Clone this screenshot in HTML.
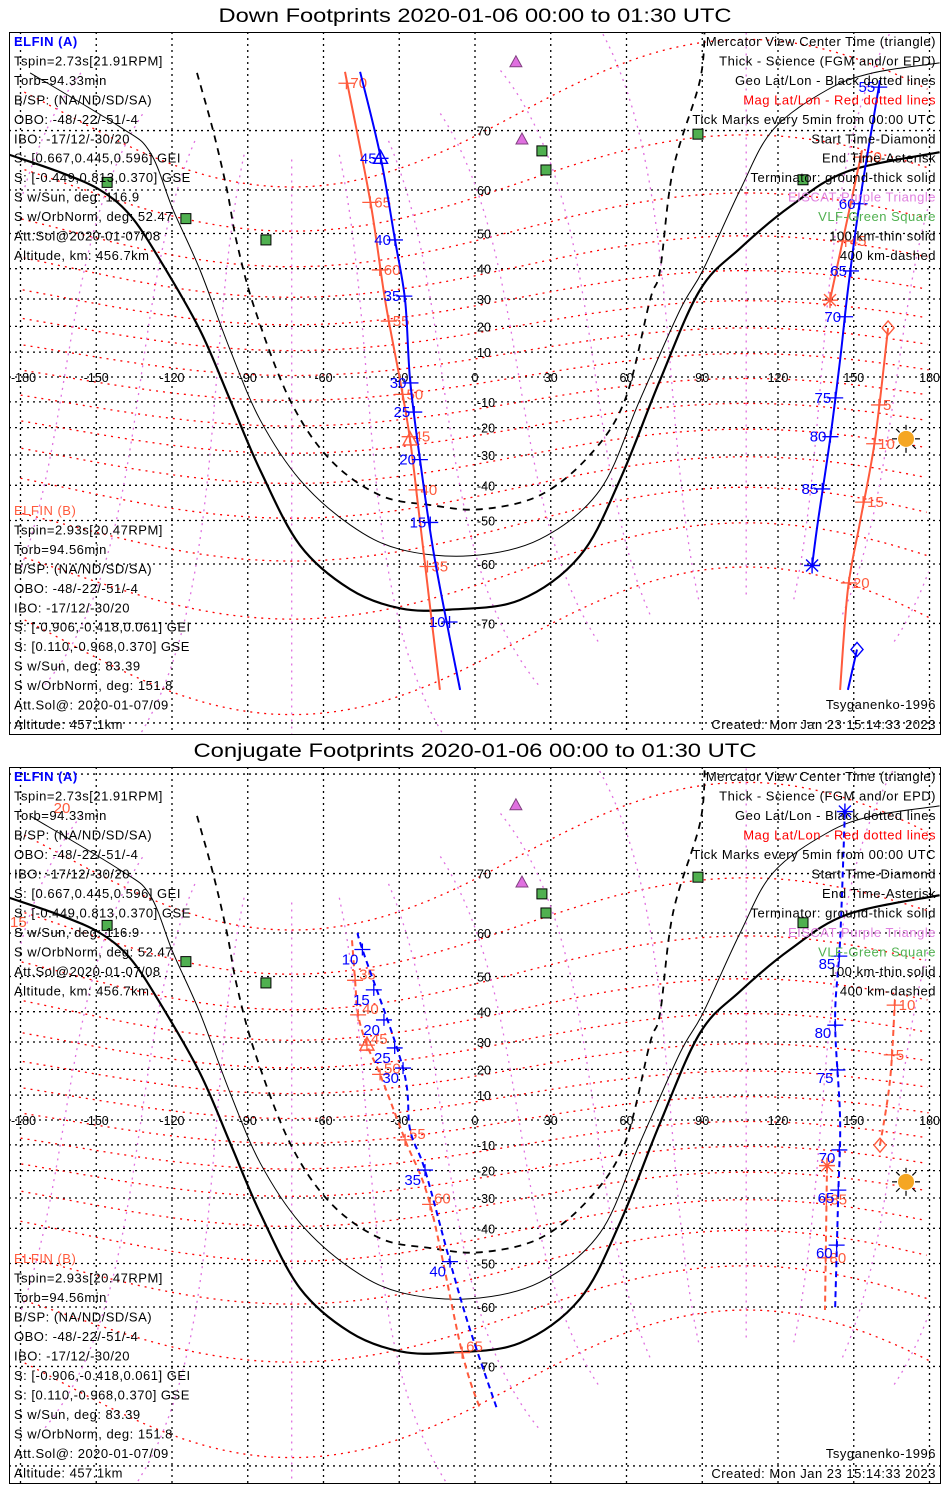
<!DOCTYPE html>
<html><head><meta charset="utf-8"><title>ELFIN Footprints</title>
<style>
html,body{margin:0;padding:0;background:#fff;overflow:hidden;width:950px;height:1500px;}
svg{display:block;font-family:"Liberation Sans",sans-serif;}
.lt{font-size:13px;letter-spacing:0.5px;}
</style></head>
<body>
<svg id="chart" width="950" height="1500" viewBox="0 0 950 1500" xmlns="http://www.w3.org/2000/svg">
<rect x="0" y="0" width="950" height="1500" fill="#fff"/>
</svg>
<script>
// ---- data (lon/lat in degrees) ----
const panelTitles = ["Down Footprints 2020-01-06 00:00 to 01:30 UTC","Conjugate Footprints 2020-01-06 00:00 to 01:30 UTC"];
const lonTicks = [-180,-150,-120,-90,-60,-30,0,30,60,90,120,150,180];
const latTicks = [-70,-60,-50,-40,-30,-20,-10,10,20,30,40,50,60,70];
const termThickLon = [-184.6,-164.4,-148.5,-136.6,-124.8,-108.9,-97,-85.1,-69.3,-49.5,-29.7,-9.9,17.8,41.6,57.4,73.3,89.1,105,124.8,147.3,184];
const termThickLat = [66.4,63.4,60,54.5,42.7,18.6,-9.2,-35.1,-56,-64.7,-67.8,-68,-66.5,-58.3,-38.3,-1.2,33.1,46,56.5,63.5,66.8];
const termThinLon = [-176.2,-140.6,-128.7,-119.6,-108.9,-97,-85.1,-69.3,-49.5,-29.7,-2,25.7,49.5,65.3,81.2,90.3,105,118,139.4,157.6,184];
const termThinLat = [76.6,70.5,66.8,55.8,39.6,10.9,-17,-38.3,-51.1,-56.9,-58.3,-54.6,-41.4,-9.2,26.1,39.6,60,70.1,74.9,76.6,77.5];
const termDashLon = [-110.1,-103.8,-98.2,-94.3,-87.1,-73.3,-57.4,-37.6,-17.8,2,25.7,45.5,59.4,69.3,73.3,78.4,89.1,91];
const termDashLat = [76.6,70.1,60,47.5,26.1,-9.2,-31.6,-43,-45.8,-47,-43,-30,-9.2,29.6,39.6,63.8,75.9,80.5];
const vlfLon = [-145.7,-114.5,-82.8,26.5,28.1,88.3,129.9];
const vlfLat = [61.5,53.7,48.3,67,63.8,69.5,62];
const eiscatLon = [16.2,18.6];
const eiscatLat = [77.6,68.8];
const sunLon = 170.7, sunLat = -24.2;

// Panel 1 tracks
const p1ALeftLon = [-45.5,-37.6,-31.7,-27.7,-25.7,-21.8,-15.8,-5.9];
const p1ALeftLat = [76.7,66.4,48.3,29.6,-1.2,-31.6,-59.4,-77.4];
const p1ALeftTickLat = [65.8,48.3,31,-2.4,-14,-31.6,-50.5,-69.8];
const p1ALeftTickLab = ["45","40","35","30","25","20","15","10"];
const p1ARightLon = [160.4,152.5,147.7,144.6,140.6,135.8,133.5];
const p1ARightLat = [75.9,58,33.1,6.9,-24.6,-50.3,-60.3];
const p1ARightTickLat = [75.2,57.1,39.3,23.6,-8.4,-23.4,-41.1];
const p1ARightTickLab = ["55","60","65","70","75","80","85"];
const p1ABotLon = [151.3,147.7];
const p1ABotLat = [-73.3,-77.4];
const p1BLeftLon = [-51.5,-41.6,-35.6,-29.7,-25.7,-21.8,-13.9];
const p1BLeftLat = [76.7,58,29.6,-1.2,-24.6,-50.3,-77.4];
const p1BLeftTickLat = [75.6,57.4,39.6,22,-7,-23.4,-41.4,-60.5];
const p1BLeftTickLab = ["70","65","60","55","50","45","40","35"];
const p1BRightLon = [163.6,158.4,152.5,147.7,144.6];
const p1BRightLat = [19.4,-24.6,-50.3,-64.7,-77.4];
const p1BRightTickLat = [-11.2,-26,-45,-63.6];
const p1BRightTickLab = ["5","10","15","20"];
const p1BUpLon = [153.3,140.6];
const p1BUpLat = [67.1,29.6];
const p1BUpTickLat = [66,48];
const p1BUpTickLab = ["50","45"];

// Panel 2 tracks
const p2ALeftLon = [-46.3,-44.6,-28.5,-25.7,-19.8,-9.9,-2,8.7];
const p2ALeftLat = [60,56.5,20.5,-4,-19.8,-49.5,-64.2,-75.1];
const p2ALeftTickLat = [56.5,46.4,37.4,27.9,20.5,-19.8,-49.5];
const p2ALeftTickLab = ["10","15","20","25","30","35","40"];
const p2BLeftLon = [-48.7,-47.5,-46.3,-42.8,-37.6,-27.7,-17.8,-5.1,2];
const p2BLeftLat = [58.5,49,39,28.9,18.1,-8,-32.2,-68,-75.1];
const p2BLeftTickLat = [49,39,28.9,18.1,-8,-32.2,-68];
const p2BLeftTickLab = ["35","40","45","50","55","60","65"];
const p2ARightLon = [146.5,144.6,142.6,144.6,143.8,142.6];
const p2ARightLat = [77,58.5,37.4,0,-30.6,-60.6];
const p2ARightTickLat = [55,35.7,19.8,-12,-27.2,-45];
const p2ARightTickLab = ["85","80","75","70","65","60"];
const p2BRightLon = [166.3,164.4,160.4];
const p2BRightLat = [43.5,16.1,-10.1];
const p2BRightTickLat = [42,25.4];
const p2BRightTickLab = ["10","5"];
const p2BLowLon = [139.4,138.6];
const p2BLowLat = [-18.1,-60.6];
const p2BLowTickLat = [-30.6,-48.5];
const p2BLowTickLab = ["85","80"];

const leftA = ["Tspin=2.73s[21.91RPM]","Torb=94.33min","B/SP: (NA/ND/SD/SA)","OBO: -48/-22/-51/-4","IBO: -17/12/-30/20","S: [0.667,0.445,0.596] GEI","S: [-0.449,0.813,0.370] GSE","S w/Sun, deg: 116.9","S w/OrbNorm, deg: 52.47","Att.Sol@2020-01-07/08","Altitude, km: 456.7km"];
const leftB = ["Tspin=2.93s[20.47RPM]","Torb=94.56min","B/SP: (NA/ND/SD/SA)","OBO: -48/-22/-51/-4","IBO: -17/12/-30/20","S: [-0.906,-0.418,0.061] GEI","S: [0.110,-0.968,0.370] GSE","S w/Sun, deg: 83.39","S w/OrbNorm, deg: 151.8","Att.Sol@: 2020-01-07/09","Altitude: 457.1km"];
const legendLines = ["Mercator View Center Time (triangle)","Thick - Science (FGM and/or EPD)","Geo Lat/Lon - Black dotted lines","Mag Lat/Lon - Red dotted lines","Tick Marks every 5min from 00:00 UTC","Start Time-Diamond","End Time-Asterisk","Terminator: ground-thick solid","EISCAT-Purple Triangle","VLF-Green Square","100 km-thin solid","400 km-dashed"];
const legendColors = ["#000","#000","#000","#f00","#000","#000","#000","#000","#e080e0","#50b050","#000","#000"];

// ---- rendering ----
const NS = "http://www.w3.org/2000/svg";
const svg = document.getElementById("chart");
const BLUE = "#0000ff", RED = "#ff5a3c";
const X0 = 9, X1 = 941;
const panels = [
  {top:32, bot:735, y0:377, titleY:22, tl:513, dash:false},
  {top:767, bot:1484, y0:1120, titleY:757, tl:563, dash:true}
];
function xs(lon){ return 475 + lon*2.525; }
function ysF(p){ return lat => p.y0 - 142*Math.log(Math.tan(Math.PI/4 + lat*Math.PI/360)); }
function el(tag, attrs, parent){
  const e = document.createElementNS(NS, tag);
  for (const k in attrs) e.setAttribute(k, attrs[k]);
  (parent||svg).appendChild(e);
  return e;
}
function txt(parent, x, y, s, fill, size, anchor, name){
  const t = el("text", {x:x, y:y, fill:fill, "font-size":size, "text-anchor":anchor||"start"}, parent);
  t.textContent = s;
  
  
  return t;
}
function pathD(pts, smooth){
  if (!smooth || pts.length < 3) return pts.map((p,i)=>(i?"L":"M")+p[0].toFixed(1)+" "+p[1].toFixed(1)).join(" ");
  let d = "M"+pts[0][0].toFixed(1)+" "+pts[0][1].toFixed(1);
  for (let i=0;i<pts.length-1;i++){
    const p0=pts[Math.max(0,i-1)], p1=pts[i], p2=pts[i+1], p3=pts[Math.min(pts.length-1,i+2)];
    const c1=[p1[0]+(p2[0]-p0[0])/6, p1[1]+(p2[1]-p0[1])/6];
    const c2=[p2[0]-(p3[0]-p1[0])/6, p2[1]-(p3[1]-p1[1])/6];
    d += " C"+c1[0].toFixed(1)+" "+c1[1].toFixed(1)+" "+c2[0].toFixed(1)+" "+c2[1].toFixed(1)+" "+p2[0].toFixed(1)+" "+p2[1].toFixed(1);
  }
  return d;
}
function poly(parent, pts, stroke, w, dash, name, smooth){
  const a = {d:pathD(pts, smooth), fill:"none", stroke:stroke, "stroke-width":w};
  if (dash) a["stroke-dasharray"] = dash;
  const e = el("path", a, parent);
  
  
  return e;
}
// dipole mag->geo
const PLAT = 80.6*Math.PI/180, PLON = -72.6*Math.PI/180;
const cpl=Math.cos(PLAT), spl=Math.sin(PLAT), cpo=Math.cos(PLON), spo=Math.sin(PLON);
function magToGeo(mlat, mlon){
  const a=mlat*Math.PI/180, b=mlon*Math.PI/180;
  const u=Math.cos(a)*Math.cos(b), v=Math.cos(a)*Math.sin(b), w=Math.sin(a);
  const gx = u*cpo*spl + v*(-spo) + w*cpl*cpo;
  const gy = u*spo*spl + v*cpo + w*cpl*spo;
  const gz = -u*cpl + w*spl;
  return [Math.atan2(gy,gx)*180/Math.PI, Math.asin(Math.max(-1,Math.min(1,gz)))*180/Math.PI];
}
function interpLon(lons, lats, lat){
  for (let i=0;i<lats.length-1;i++){
    const a=lats[i], b=lats[i+1];
    if ((lat<=a && lat>=b) || (lat>=a && lat<=b)){
      const t = (lat-a)/(b-a||1);
      return lons[i] + t*(lons[i+1]-lons[i]);
    }
  }
  return lons[lons.length-1];
}

panels.forEach((p, pi) => {
  const ys = ysF(p);
  const g = el("g", {}, svg);
  
  
  const cp = el("clipPath", {id:"clip"+pi}, g);
  el("rect", {x:X0, y:p.top, width:X1-X0, height:p.bot-p.top}, cp);
  const title = txt(g, 475, p.titleY, panelTitles[pi], "#000", 19, "middle", "panel-title");
  title.setAttribute("textLength", p.tl);
  title.setAttribute("lengthAdjust", "spacingAndGlyphs");
  const m = el("g", {"clip-path":"url(#clip"+pi+")"}, g);
  
  

  // geo grid
  lonTicks.forEach(lo => {
    const l = el("line", {x1:xs(lo), x2:xs(lo), y1:p.top, y2:p.bot, stroke:"#000", "stroke-width":1.3, "stroke-dasharray":"2,4"}, m);
    
    
  });
  latTicks.concat([0,-80,80]).forEach(la => {
    const l = el("line", {x1:X0, x2:X1, y1:ys(la), y2:ys(la), stroke:"#000", "stroke-width":1.3, "stroke-dasharray":"2,4"}, m);
    
    
  });
  // mag grid
  for (let ml=-70; ml<=70; ml+=10){
    let seg=[], prev=null;
    for (let mo=-180; mo<=180; mo+=2){
      const [lo,la] = magToGeo(ml, mo);
      const pt=[xs(lo), ys(la)];
      if (prev && Math.abs(pt[0]-prev[0])>300){ if(seg.length>1) poly(m, seg, "#f00", 1.3, "2,5", "mag-lat-line"); seg=[]; }
      seg.push(pt); prev=pt;
    }
    if (seg.length>1) poly(m, seg, "#f00", 1.3, "2,5", "mag-lat-line");
  }
  for (let mo=-180; mo<180; mo+=30){
    let seg=[], prev=null;
    for (let ml=-75; ml<=75; ml+=1){
      const [lo,la] = magToGeo(ml, mo);
      const pt=[xs(lo), ys(la)];
      if (prev && Math.abs(pt[0]-prev[0])>300){ if(seg.length>1) poly(m, seg, "#e070e0", 1.3, "2,5", "mag-lon-line"); seg=[]; }
      seg.push(pt); prev=pt;
    }
    if (seg.length>1) poly(m, seg, "#e070e0", 1.3, "2,5", "mag-lon-line");
  }
  // axis labels
  lonTicks.forEach(lo => {
    let x=xs(lo), anc="middle";
    if (lo===-180){ x=11; anc="start"; }
    if (lo===180){ x=940; anc="end"; }
    txt(m, x, p.y0+5, String(lo), "#000", 12.5, anc, "lon-tick-label");
  });
  latTicks.forEach(la => txt(m, 477, ys(la)+5, String(la), "#000", 12.5, "start", "lat-tick-label"));

  // terminators
  const pj = (lons,lats)=>lons.map((lo,i)=>[xs(lo), ys(lats[i])]);
  poly(m, pj(termThickLon,termThickLat), "#000", 2.2, null, "terminator-ground", true);
  poly(m, pj(termThinLon,termThinLat), "#000", 1, null, "terminator-100km", true);
  poly(m, pj(termDashLon,termDashLat), "#000", 1.8, "7,6", "terminator-400km", true);

  // stations
  vlfLon.forEach((lo,i)=>{
    const r = el("rect", {x:xs(lo)-5, y:ys(vlfLat[i])-5, width:10, height:10, fill:"#50b050", stroke:"#000", "stroke-width":1}, m);
    
    
  });
  eiscatLon.forEach((lo,i)=>{
    const x=xs(lo), y=ys(eiscatLat[i]);
    const t = el("path", {d:`M${x} ${y-6} L${x+6} ${y+5} L${x-6} ${y+5} Z`, fill:"#e070e0", stroke:"#804080", "stroke-width":1}, m);
    
    
  });
  // sun
  const sx=xs(sunLon), sy=ys(sunLat);
  for (let k=0;k<8;k++){
    const a=k*Math.PI/4;
    const r = el("line", {x1:sx+9*Math.cos(a), y1:sy+9*Math.sin(a), x2:sx+14*Math.cos(a), y2:sy+14*Math.sin(a), stroke:"#000", "stroke-width":1.2}, m);
    
    
  }
  const sc = el("circle", {cx:sx, cy:sy, r:8, fill:"#f5a623"}, m);
  
  

  // track drawing
  function track(lons, lats, color, name, tickLats, tickLabs, side, ldy){
    poly(m, pj(lons,lats), color, 2, p.dash ? "6,4" : null, name, true);
    (tickLats||[]).forEach((la,i)=>{
      const x = xs(interpLon(lons,lats,la)), y = ys(la);
      const tk = el("path", {d:`M${x-8} ${y} L${x+8} ${y} M${x} ${y-6} L${x} ${y+6}`, stroke:color, "stroke-width":1.3, fill:"none"}, m);
      
      
      txt(m, side<0 ? x-4 : x+4, y+5+(ldy||0), tickLabs[i], color, 15, side<0?"end":"start", name+'-tick-label');
    });
  }
  function marker(kind, lons, lats, lat, color, name){
    const x = xs(interpLon(lons,lats,lat)), y = ys(lat);
    let d;
    if (kind==="tri") d=`M${x} ${y-8} L${x+7} ${y+5} L${x-7} ${y+5} Z`;
    else if (kind==="dia") d=`M${x} ${y-7} L${x+6} ${y} L${x} ${y+7} L${x-6} ${y} Z`;
    else d=`M${x-8} ${y} L${x+8} ${y} M${x} ${y-8} L${x} ${y+8} M${x-6} ${y-6} L${x+6} ${y+6} M${x-6} ${y+6} L${x+6} ${y-6}`;
    const e = el("path", {d:d, fill:"none", stroke:color, "stroke-width":1.4}, m);
    
    
  }
  if (pi===0){
    track(p1BLeftLon,p1BLeftLat,RED,"elfin-b-track",p1BLeftTickLat,p1BLeftTickLab,1);
    track(p1ALeftLon,p1ALeftLat,BLUE,"elfin-a-track",p1ALeftTickLat,p1ALeftTickLab,-1);
    track(p1BRightLon,p1BRightLat,RED,"elfin-b-track-east",p1BRightTickLat,p1BRightTickLab,1);
    track(p1BUpLon,p1BUpLat,RED,"elfin-b-track-north",p1BUpTickLat,p1BUpTickLab,1);
    track(p1ARightLon,p1ARightLat,BLUE,"elfin-a-track-east",p1ARightTickLat,p1ARightTickLab,-1);
    track(p1ABotLon,p1ABotLat,BLUE,"elfin-a-track-south",[],[],-1);
    marker("tri",p1ALeftLon,p1ALeftLat,65.8,BLUE,"elfin-a-center-triangle");
    marker("tri",p1BLeftLon,p1BLeftLat,-24.6,RED,"elfin-b-center-triangle");
    marker("ast",p1ARightLon,p1ARightLat,-60.3,BLUE,"elfin-a-end-asterisk");
    marker("dia",p1ABotLon,p1ABotLat,-73.3,BLUE,"elfin-a-start-diamond");
    marker("dia",p1BRightLon,p1BRightLat,19.4,RED,"elfin-b-start-diamond");
    marker("ast",p1BUpLon,p1BUpLat,29.6,RED,"elfin-b-end-asterisk");
  } else {
    track(p2BLeftLon,p2BLeftLat,RED,"elfin-b-track",p2BLeftTickLat,p2BLeftTickLab,1,-6);
    track(p2ALeftLon,p2ALeftLat,BLUE,"elfin-a-track",p2ALeftTickLat,p2ALeftTickLab,-1,10);
    track(p2BRightLon,p2BRightLat,RED,"elfin-b-track-east",p2BRightTickLat,p2BRightTickLab,1);
    track(p2BLowLon,p2BLowLat,RED,"elfin-b-track-south",p2BLowTickLat,p2BLowTickLab,1);
    track(p2ARightLon,p2ARightLat,BLUE,"elfin-a-track-east",p2ARightTickLat,p2ARightTickLab,-1,8);
    marker("tri",p2BLeftLon,p2BLeftLat,28.9,RED,"elfin-b-center-triangle");
    marker("ast",p2ARightLon,p2ARightLat,77,BLUE,"elfin-a-end-asterisk");
    marker("dia",p2BRightLon,p2BRightLat,-10.1,RED,"elfin-b-start-diamond");
    marker("ast",p2BLowLon,p2BLowLat,-18.1,RED,"elfin-b-end-asterisk");
    txt(m, 62, 813, "20", RED, 15, "middle", "elfin-b-tick-label");
    txt(m, 10, 927, "15", RED, 15, "start", "elfin-b-tick-label");
  }

  // text blocks
  const step = pi===0 ? 19.45 : 19.5;
  const aY = p.top + 9, bY = pi===0 ? 510 : 1258;
  const ta = txt(g, 14, aY+5, "ELFIN (A)", BLUE, 13, "start", "elfin-a-heading");
  ta.setAttribute("font-weight","bold");
  ta.setAttribute("class","lt");
  leftA.forEach((s,i)=>{ const t=txt(g, 14, aY+5+(i+1)*step, s, "#000", 13, "start", "elfin-a-info"); t.setAttribute("class","lt"); });
  const tb = txt(g, 14, bY+5, "ELFIN (B)", RED, 13, "start", "elfin-b-heading");
  tb.setAttribute("class","lt");
  leftB.forEach((s,i)=>{ const t=txt(g, 14, bY+5+(i+1)*step, s, "#000", 13, "start", "elfin-b-info"); t.setAttribute("class","lt"); });
  legendLines.forEach((s,i)=>{ const t=txt(g, 936, aY+5+i*step, s, legendColors[i], 13, "end", "legend-line"); t.setAttribute("class","lt"); });
  const cr = txt(g, 936, p.bot-6, "Created: Mon Jan 23 15:14:33 2023", "#000", 13, "end", "created-timestamp");
  cr.setAttribute("class","lt");
  const ts = txt(g, 936, p.bot-26, "Tsyganenko-1996", "#000", 13, "end", "model-name");
  ts.setAttribute("class","lt");

  const box = el("rect", {x:X0+0.5, y:p.top+0.5, width:X1-X0-1, height:p.bot-p.top-1, fill:"none", stroke:"#000", "stroke-width":1}, g);
  
  
});
</script>
</body></html>
